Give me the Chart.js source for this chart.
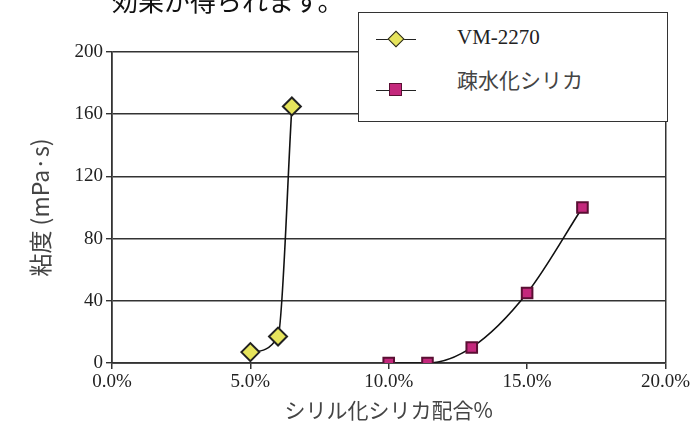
<!DOCTYPE html>
<html>
<head>
<meta charset="utf-8">
<script src="https://cdn.jsdelivr.net/npm/chart.js@4"></script>
<style>
  html, body { margin: 0; padding: 0; background: #fff; }
  #wrap { position: relative; width: 692px; height: 437px; overflow: hidden; }
  #topText { position: absolute; left: 112px; top: -13px; font: 26px/26px "Noto Sans CJK JP"; color: #111; white-space: nowrap; }
  #legend { position: absolute; left: 358px; top: 12px; width: 308px; height: 108px; border: 1.5px solid #333; background: #fff; }
  .item { position: absolute; left: 0; height: 30px; width: 300px; }
  .seg { position: absolute; left: 17px; top: 14px; width: 40px; height: 0; border-top: 1.3px solid #222; }
  .mk { position: absolute; }
  .lbl { position: absolute; left: 98px; top: 0; font-size: 21px; line-height: 30px; color: #222; }
</style>
</head>
<body>
<div id="wrap">
  <div id="topText">効果が得られます。</div>
  <canvas id="c" width="692" height="437"></canvas>
  <div id="legend">
    <div class="item" style="top:12px">
      <div class="seg"></div>
      <div class="mk" style="left:31px;top:8px;width:10px;height:10px;transform:rotate(45deg);background:#e6e45c;border:1.5px solid #222;"></div>
      <div class="lbl" style="font-family:'Liberation Serif';top:-3px">VM-2270</div>
    </div>
    <div class="item" style="top:63px">
      <div class="seg"></div>
      <div class="mk" style="left:30px;top:7px;width:11px;height:11px;background:#c4287c;border:1.5px solid #5a0f33;"></div>
      <div class="lbl" style="font-family:'Noto Sans CJK JP';top:-12px;color:#444">疎水化シリカ</div>
    </div>
  </div>
</div>
<script>
// VM-2270
const vmX = [5.0, 6.0, 6.5];
const vmY = [7, 17, 165];
// 疎水化シリカ
const silicaX = [10.0, 11.4, 13.0, 15.0, 17.0];
const silicaY = [0, 0, 10, 45, 100];

const seriesNames = ['VM-2270', '疎水化シリカ'];
const xTitle = 'シリル化シリカ配合%';
const yTitle = '粘度 (mPa·s)';

const toPts = (xs, ys) => xs.map((x, i) => ({ x: x, y: ys[i] }));

const ctx = document.getElementById('c').getContext('2d');
new Chart(ctx, {
    type: 'line',
    data: {
        datasets: [{
            label: seriesNames[0],
            data: toPts(vmX, vmY),
            borderColor: '#111',
            borderWidth: 1.6,
            cubicInterpolationMode: 'monotone',
            pointStyle: 'rectRot',
            pointRadius: 9,
            pointBackgroundColor: '#e6e45c',
            pointBorderColor: '#222',
            pointBorderWidth: 2
        }, {
            label: seriesNames[1],
            data: toPts(silicaX, silicaY),
            borderColor: '#111',
            borderWidth: 1.6,
            cubicInterpolationMode: 'monotone',
            pointStyle: 'rect',
            pointRadius: 7.5,
            pointBackgroundColor: '#c4287c',
            pointBorderColor: '#5a0f33',
            pointBorderWidth: 2
        }]
    },
    options: {
        responsive: false,
        animation: false,
        layout: { padding: { top: 52, right: 15, left: 0, bottom: 0 } },
        plugins: { legend: { display: false }, tooltip: { enabled: false } },
        scales: {
            x: {
                type: 'linear',
                min: 0, max: 20,
                afterFit: s => { s.height = 74; },
                ticks: {
                    stepSize: 5,
                    padding: 2,
                    color: '#222',
                    font: { family: 'Liberation Serif', size: 19 },
                    callback: v => v.toFixed(1) + '%'
                },
                grid: {
                    color: c => (c.tick && c.tick.value === 20) ? '#333' : 'rgba(0,0,0,0)',
                    tickColor: '#333',
                    tickLength: 6,
                    lineWidth: 1.5
                },
                border: { display: true, color: '#333', width: 1.8 },
                title: {
                    display: true,
                    text: xTitle,
                    color: '#444',
                    font: { family: 'Noto Sans CJK JP', size: 21 },
                    padding: { top: 0, bottom: 14 }
                }
            },
            y: {
                min: 0, max: 200,
                afterFit: s => { s.width = 112; },
                ticks: {
                    stepSize: 40,
                    padding: 3,
                    color: '#222',
                    font: { family: 'Liberation Serif', size: 19 }
                },
                grid: {
                    color: '#333',
                    tickColor: '#333',
                    tickLength: 6,
                    lineWidth: 1.4
                },
                border: { display: true, color: '#333', width: 1.8 },
                title: {
                    display: true,
                    text: yTitle,
                    color: '#444',
                    font: { family: 'Noto Sans CJK JP', size: 23 },
                    padding: { top: 26, bottom: 0 }
                }
            }
        }
    }
});
</script>
</body>
</html>
